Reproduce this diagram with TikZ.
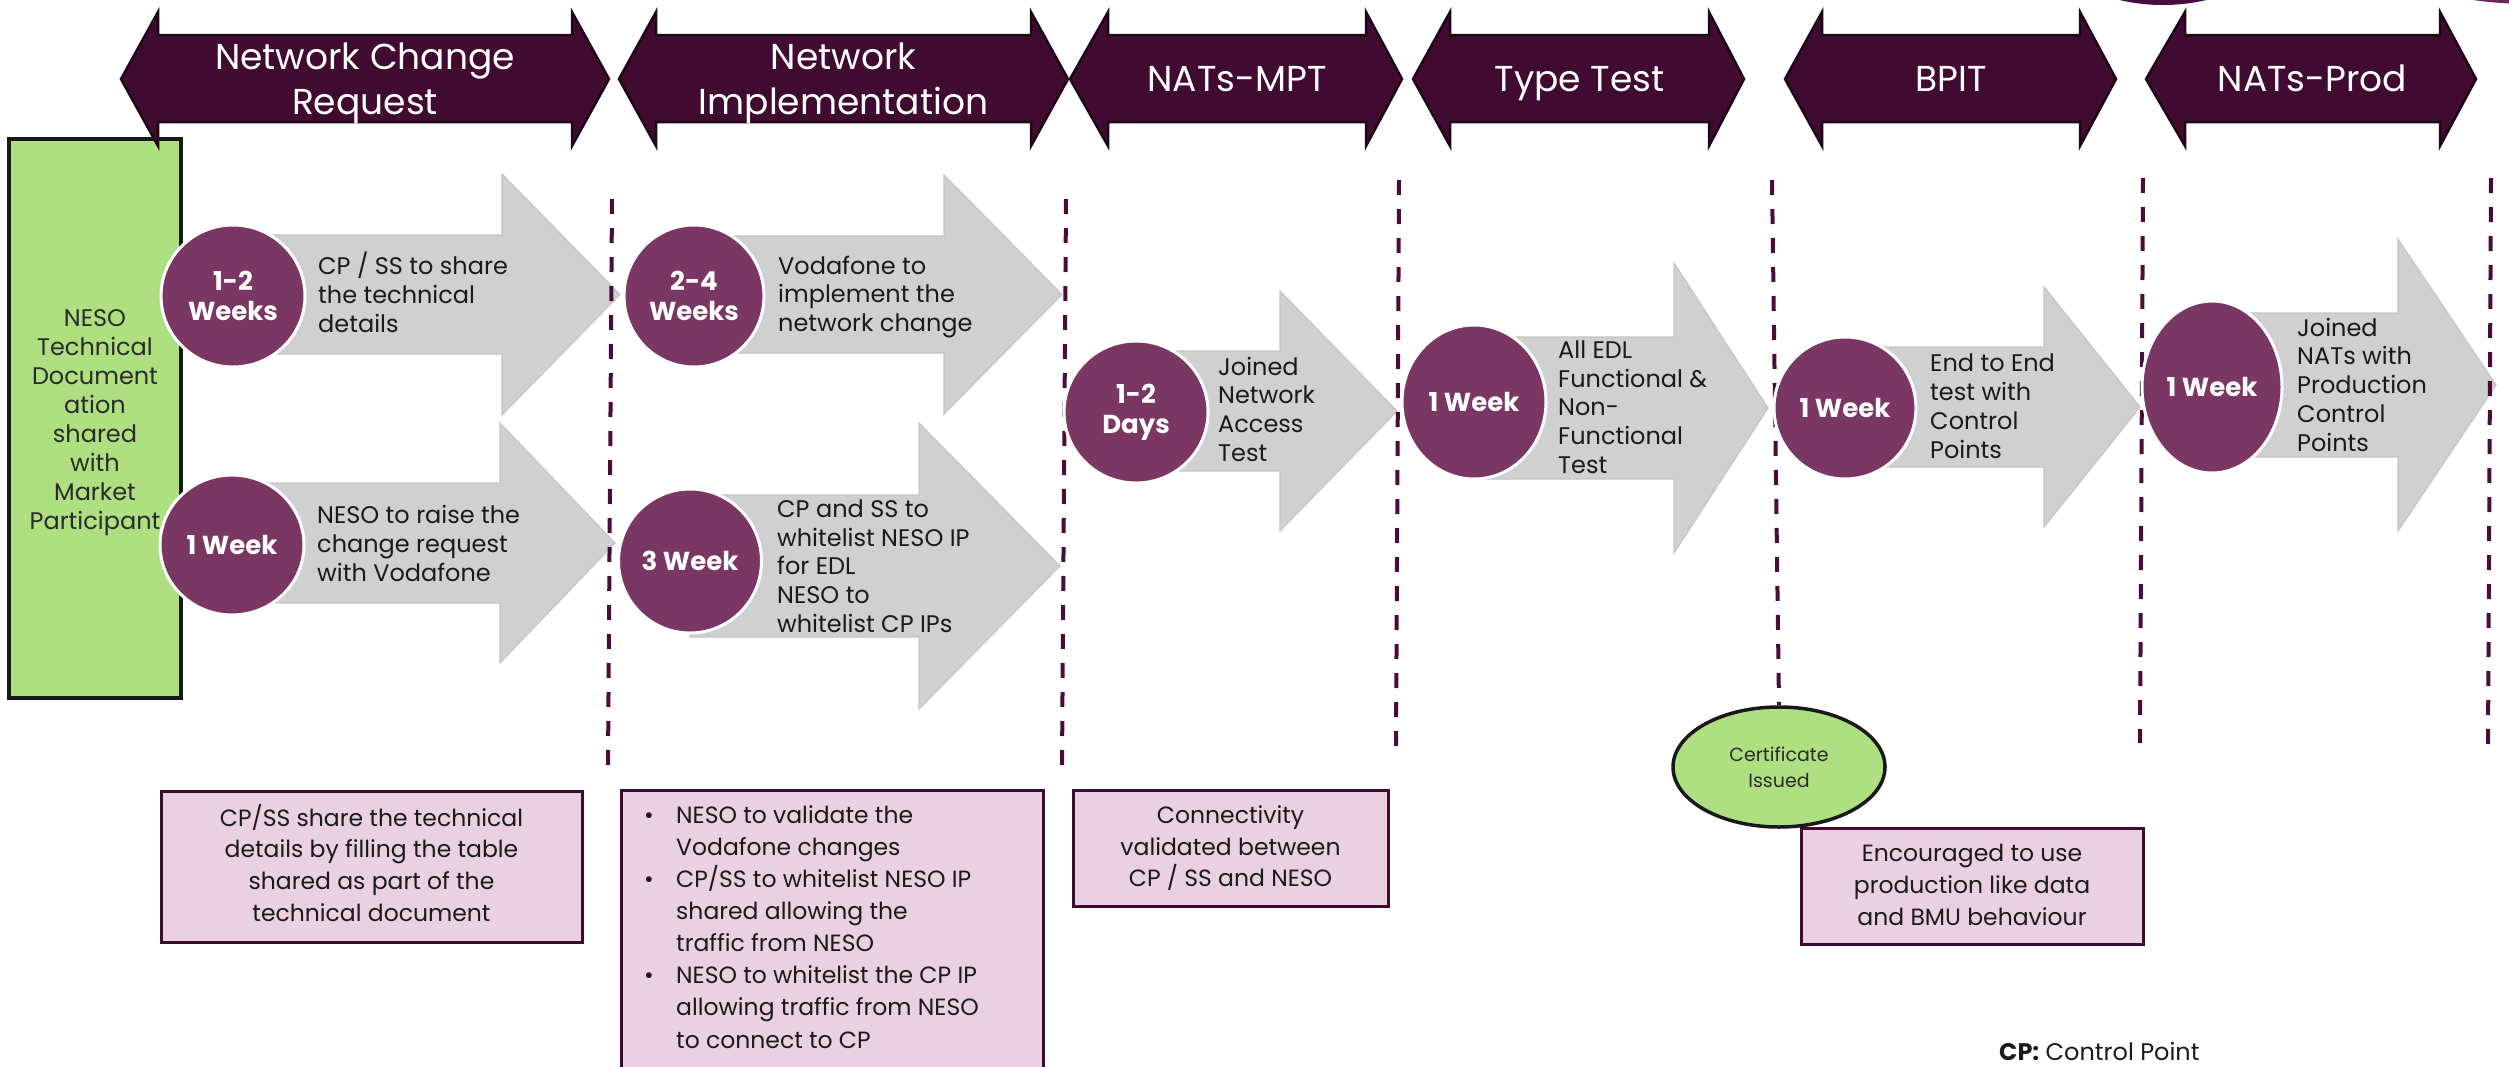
\documentclass[tikz,border=0pt]{standalone}
\usepackage{fontspec}
\setmainfont{Poppins}
\usetikzlibrary{shapes.geometric}

\definecolor{hdrfill}{HTML}{410B31}
\definecolor{hdredge}{HTML}{1E0618}
\definecolor{dotfill}{HTML}{7A3763}
\definecolor{flowgray}{HTML}{D0D0D0}
\definecolor{flowedge}{HTML}{C6C6C6}
\definecolor{divider}{HTML}{4A0D3B}
\definecolor{notefill}{HTML}{E9D1E2}
\definecolor{noteedge}{HTML}{3F0A30}
\definecolor{docgreen}{HTML}{AEDF80}
\definecolor{inktext}{HTML}{1A1A1A}
\definecolor{softink}{HTML}{2B2B2B}
\definecolor{topdisc}{HTML}{4A0D3B}
\definecolor{topdisclight}{HTML}{6B2A55}

% phase banner: name, left tip, left base, right base, right tip, label, first baseline
\newcommand\phasebar[7]{%
  \filldraw[hdrbar] (#2,79) -- (#3,12) -- (#3,35) -- (#4,35) -- (#4,12) -- (#5,79)
    -- (#4,146) -- (#4,122) -- (#3,122) -- (#3,146) -- cycle;
  \node[hdrtext] (#1) at ({(#3+#4)/2},#7) {\parbox[t]{420pt}{\centering #6}};
}
% grey block arrow: left x, centre y, body half height, head x, head half height, tip x
\newcommand\blockarrow[6]{%
  \filldraw[flowshape] (#1,#2-#3) -- (#4,#2-#3) -- (#4,#2-#5) -- (#6,#2)
    -- (#4,#2+#5) -- (#4,#2+#3) -- (#1,#2+#3) -- cycle;
}
\newcommand\leftlines[1]{\parbox[t]{330pt}{\raggedright #1}}
\newcommand\midlines[2]{\parbox[t]{#1}{\centering #2}}
\newcommand\bul{\leavevmode\llap{\makebox[32pt][l]{\textbullet}}}

\begin{document}
\begin{tikzpicture}[x=1pt,y=-1pt,
  hdrbar/.style={fill=hdrfill, draw=hdredge, line width=2.5pt, line join=miter},
  hdrtext/.style={text=white, inner sep=0pt, anchor=base, font=\fontsize{36}{45}\selectfont},
  flowshape/.style={fill=flowgray, draw=flowedge, line width=1.2pt, line join=miter},
  dursign/.style={ellipse, fill=dotfill, draw=white, line width=3pt, inner sep=0pt,
    text=white, align=center, font=\bfseries\fontsize{26}{30}\selectfont},
  flowtext/.style={inner sep=0pt, anchor=base west, text=inktext, font=\fontsize{24}{28.8}\selectfont},
  divline/.style={draw=divider, line width=4pt, dash pattern=on 15pt off 14pt},
  notebox/.style={rectangle, fill=notefill, draw=noteedge, line width=3pt, inner sep=0pt},
  notetext/.style={inner sep=0pt, anchor=base, text=inktext, font=\fontsize{23.5}{31.7}\selectfont},
  greenbox/.style={rectangle, fill=docgreen, draw=black!90, line width=4pt, inner sep=0pt},
  greenoval/.style={ellipse, fill=docgreen, draw=black!90, line width=3.5pt, inner sep=0pt},
]
\useasboundingbox (0,0) rectangle (2509,1066);
\clip (0,0) rectangle (2509,1066);
\fill[white] (0,0) rectangle (2509,1066);

% discs peeking in at the top edge
\fill[topdisc] (2163,-185) circle [radius=190];
\fill[topdisclight] (2530,-404) circle [radius=408];

% documentation panel on the left
\node[greenbox, minimum width=172pt, minimum height=559pt] (doc) at (95,418.5) {};
\node[inner sep=0pt, anchor=base, text=softink, font=\fontsize{24}{29}\selectfont] (doctext) at (95,326)
  {\midlines{170pt}{NESO\\Technical\\Document\\ation\\shared\\with\\Market\\Participant}};

% phase banners
\phasebar{ph1}{121}{158}{572}{609}{Network Change\\Request}{69}
\phasebar{ph2}{619}{656}{1031}{1068}{Network\\Implementation}{69}
\phasebar{ph3}{1070}{1108}{1366}{1402}{NATs-MPT}{91}
\phasebar{ph4}{1413}{1450}{1709}{1744}{Type Test}{91}
\phasebar{ph5}{1785}{1822}{2080}{2116}{BPIT}{91}
\phasebar{ph6}{2146}{2185}{2440}{2476}{NATs-Prod}{91}

% grey step arrows
\blockarrow{233}{294.5}{59.5}{502}{120.5}{620}
\blockarrow{232}{543}{60}{500}{120}{615}
\blockarrow{694}{294.5}{58.5}{944}{119.5}{1062}
\blockarrow{690}{566}{71}{919}{143}{1060}
\blockarrow{1136}{411}{60}{1280}{120}{1397}
\blockarrow{1474}{408}{71}{1674}{145}{1768}
\blockarrow{1845}{407}{60}{2044}{120}{2140}
\blockarrow{2212}{385}{72}{2398}{146}{2496}

% bottom notes
\node[notebox, minimum width=421pt, minimum height=151pt] (note1) at (371.5,866.5) {};
\node[notetext] (note1text) at (371.5,826)
  {\midlines{420pt}{CP/SS share the technical\\details by filling the table\\shared as part of the\\technical document}};
\node[notebox, minimum width=422pt, minimum height=300pt] (note2) at (832,940) {};
\node[notetext, anchor=base west] (note2text) at (676,823.3)
  {\parbox[t]{360pt}{\raggedright\fontsize{23.5}{32.1}\selectfont
   \bul NESO to validate the\\
   Vodafone changes\\
   \bul CP/SS to whitelist NESO IP\\
   shared allowing the\\
   traffic from NESO\\
   \bul NESO to whitelist the CP IP\\
   allowing traffic from NESO\\
   to connect to CP}};
\node[notebox, minimum width=315pt, minimum height=116pt] (note3) at (1230.5,848) {};
\node[notetext] (note3text) at (1230.5,823.3)
  {\midlines{310pt}{Connectivity\\validated between\\CP / SS and NESO}};
\node[notebox, minimum width=342pt, minimum height=116pt] (note4) at (1972,886) {};
\node[notetext] (note4text) at (1972,861.7)
  {\midlines{340pt}{Encouraged to use\\production like data\\and BMU behaviour}};

% certificate marker
\node[greenoval, minimum width=212pt, minimum height=120pt] (cert) at (1779,767) {};
\node[inner sep=0pt, anchor=base, text=softink, font=\fontsize{19}{25.6}\selectfont] (certtext) at (1779,761.7)
  {\midlines{200pt}{Certificate\\Issued}};

% phase dividers
\draw[divline] (612,199) -- (608,765);
\draw[divline] (1066,199) -- (1062,765);
\draw[divline] (1399,180) -- (1396,747);
\draw[divline] (1772,180) -- (cert.north);
\draw[divline] (2143,178) -- (2140,743);
\draw[divline] (2491,178) -- (2488,745);

% duration markers
\node[dursign, minimum width=144pt, minimum height=142pt] (d1) at (233,296) {1-2\\Weeks};
\node[dursign, minimum width=144pt, minimum height=140pt] (d2) at (232,545) {1 Week};
\node[dursign, minimum width=140pt, minimum height=142pt] (d3) at (694,296) {2-4\\Weeks};
\node[dursign, minimum width=143pt, minimum height=144pt] (d4) at (690,561) {3 Week};
\node[dursign, minimum width=144pt, minimum height=142pt] (d5) at (1136,412) {1-2\\Days};
\node[dursign, minimum width=144pt, minimum height=154pt] (d6) at (1474,402) {1 Week};
\node[dursign, minimum width=142pt, minimum height=142pt] (d7) at (1845,408) {1 Week};
\node[dursign, minimum width=140pt, minimum height=172pt] (d8) at (2212,387) {1 Week};

% step descriptions
\node[flowtext] (s1) at (318,274.4) {\leftlines{CP / SS to share\\the technical\\details}};
\node[flowtext] (s2) at (317,523.5) {\leftlines{NESO to raise the\\change request\\with Vodafone}};
\node[flowtext] (s3) at (778,274) {\leftlines{Vodafone to\\implement the\\network change}};
\node[flowtext] (s4) at (777,517.3) {\leftlines{CP and SS to\\whitelist NESO IP\\for EDL\\NESO to\\whitelist CP IPs}};
\node[flowtext] (s5) at (1218,375) {\leftlines{Joined\\Network\\Access\\Test}};
\node[flowtext] (s6) at (1558,358.3) {\leftlines{All EDL\\Functional \&\\Non-\\Functional\\Test}};
\node[flowtext] (s7) at (1930,371.7) {\leftlines{End to End\\test with\\Control\\Points}};
\node[flowtext] (s8) at (2297,336) {\leftlines{Joined\\NATs with\\Production\\Control\\Points}};

% legend
\node[inner sep=0pt, anchor=base west, text=inktext, font=\fontsize{24}{28}\selectfont] (legend) at (1999,1060)
  {\textbf{CP:} Control Point};
\end{tikzpicture}
\end{document}
